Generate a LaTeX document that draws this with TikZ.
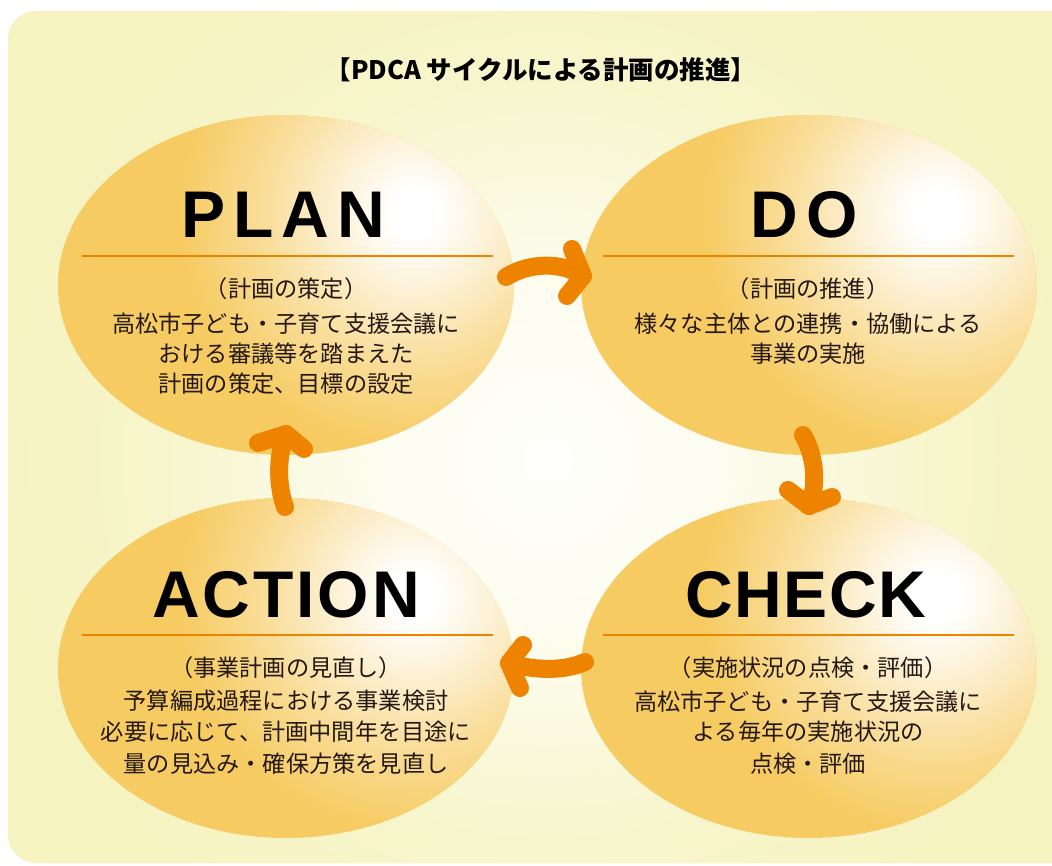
\documentclass[tikz,border=0pt]{standalone}
\usepackage{fontspec}
\newfontfamily\jpfont{Noto Sans CJK JP}
\newfontfamily\hdfont{Liberation Sans}
\usetikzlibrary{shapes.geometric,calc}
\definecolor{bgy}{HTML}{F5F3BF}
\definecolor{basec}{HTML}{F6CB62}
\definecolor{arrc}{HTML}{EE8300}
\definecolor{txtc}{HTML}{231815}
\pgfdeclareradialshading{hlshade}{\pgfpointorigin}{color(0bp)=(white); color(2.5bp)=(white); color(8bp)=(basec!25!white); color(16bp)=(basec!65!white); color(25bp)=(basec); color(50bp)=(basec)}
\pgfdeclareradialshading{bgshade}{\pgfpointorigin}{color(0bp)=(bgy!6!white); color(8bp)=(bgy!25!white); color(17bp)=(bgy!80!white); color(25bp)=(bgy); color(50bp)=(bgy)}
\begin{document}
\begin{tikzpicture}[x=1pt,y=-1pt,
  bubble/.style={ellipse, minimum width=456pt, minimum height=340pt, inner sep=0pt,
    path picture={\fill[basec] (path picture bounding box.south west) rectangle (path picture bounding box.north east);
      \shade[shading=hlshade] ($(path picture bounding box.center)+(128,-72)$) circle (235);}},
  hd/.style={font=\hdfont\bfseries\fontsize{66}{70}\selectfont, text=black, inner sep=0pt, anchor=base},
  jtxt/.style={font=\jpfont\fontsize{23.2}{28}\selectfont, text=txtc, inner sep=0pt, text height=20.4pt, text depth=2.8pt},
  ttl/.style={font=\jpfont\bfseries\fontsize{25.5}{30}\selectfont, text=black, inner sep=0pt},
  sepline/.style={draw=arrc, line width=2.4pt},
  arr/.style={draw=arrc, line width=18pt, line cap=round, line join=round}]
\useasboundingbox (0,0) rectangle (1052,865);
% background
\begin{scope}
  \clip[rounded corners=28pt] (8,11) rectangle (1100,863);
  \fill[bgy] (0,0) rectangle (1100,865);
  \shade[shading=bgshade] (548,460) circle (560);
\end{scope}
% title
\node[ttl] (title) at (541,70) {【PDCA サイクルによる計画の推進】};
% bubbles
\node[bubble] (plan) at (286,285) {};
\node[bubble] (do) at (809,285) {};
\node[bubble] (action) at (286,668) {};
\node[bubble] (check) at (809,668) {};
% headings
\node[hd] (planh) at (283,237) {P\kern8pt L\kern8pt A\kern8pt N};
\node[hd] (doh) at (804,237) {D\kern8pt O};
\node[hd] (actionh) at (286,617) {A\kern3pt C\kern3pt T\kern3pt I\kern3pt O\kern3pt N};
\node[hd] (checkh) at (806,617) {C\kern1.5pt H\kern1.5pt E\kern1.5pt C\kern1.5pt K};
% separator lines
\draw[sepline] (82,256) -- (493,256);
\draw[sepline] (603,256) -- (1014,256);
\draw[sepline] (82,635) -- (493,635);
\draw[sepline] (603,635) -- (1014,635);
% PLAN text
\node[jtxt] (p1) at (286,289) {（計画の策定）};
\node[jtxt] (p2) at (286,324) {高松市子ども・子育て支援会議に};
\node[jtxt] (p3) at (286,354) {おける審議等を踏まえた};
\node[jtxt] (p4) at (286,384) {計画の策定、目標の設定};
% DO text
\node[jtxt] (d1) at (808,289) {（計画の推進）};
\node[jtxt] (d2) at (808,324) {様々な主体との連携・協働による};
\node[jtxt] (d3) at (808,354) {事業の実施};
% ACTION text
\node[jtxt] (a1) at (286,668) {（事業計画の見直し）};
\node[jtxt] (a2) at (286,701) {予算編成過程における事業検討};
\node[jtxt] (a3) at (286,732) {必要に応じて、計画中間年を目途に};
\node[jtxt] (a4) at (286,764) {量の見込み・確保方策を見直し};
% CHECK text
\node[jtxt] (c1) at (808,668) {（実施状況の点検・評価）};
\node[jtxt] (c2) at (808,702) {高松市子ども・子育て支援会議に};
\node[jtxt] (c3) at (808,732) {よる毎年の実施状況の};
\node[jtxt] (c4) at (808,764) {点検・評価};
% arrow coordinates
\coordinate (r1s) at (506,277); \coordinate (r1t) at (583,276);
\coordinate (r1u) at (572,249); \coordinate (r1l) at (567,296);
\coordinate (r2s) at (803,435); \coordinate (r2t) at (809,506);
\coordinate (r2u) at (788,490); \coordinate (r2l) at (832,497);
\coordinate (r3s) at (585,662); \coordinate (r3t) at (509,663);
\coordinate (r3u) at (523,645); \coordinate (r3l) at (520,688);
\coordinate (r4s) at (285,507); \coordinate (r4t) at (286,434);
\coordinate (r4u) at (258,443); \coordinate (r4l) at (304,449);
% arrows
\draw[arr] (r1s) .. controls (530,262) and (562,262) .. (r1t);
\draw[arr] (r1u) -- (r1t) -- (r1l);
\draw[arr] (r2s) .. controls (815,455) and (818,485) .. (r2t);
\draw[arr] (r2u) -- (r2t) -- (r2l);
\draw[arr] (r3s) .. controls (565,671) and (535,671) .. (r3t);
\draw[arr] (r3u) -- (r3t) -- (r3l);
\draw[arr] (r4s) .. controls (277,485) and (277,455) .. (r4t);
\draw[arr] (r4u) -- (r4t) -- (r4l);
\end{tikzpicture}
\end{document}
